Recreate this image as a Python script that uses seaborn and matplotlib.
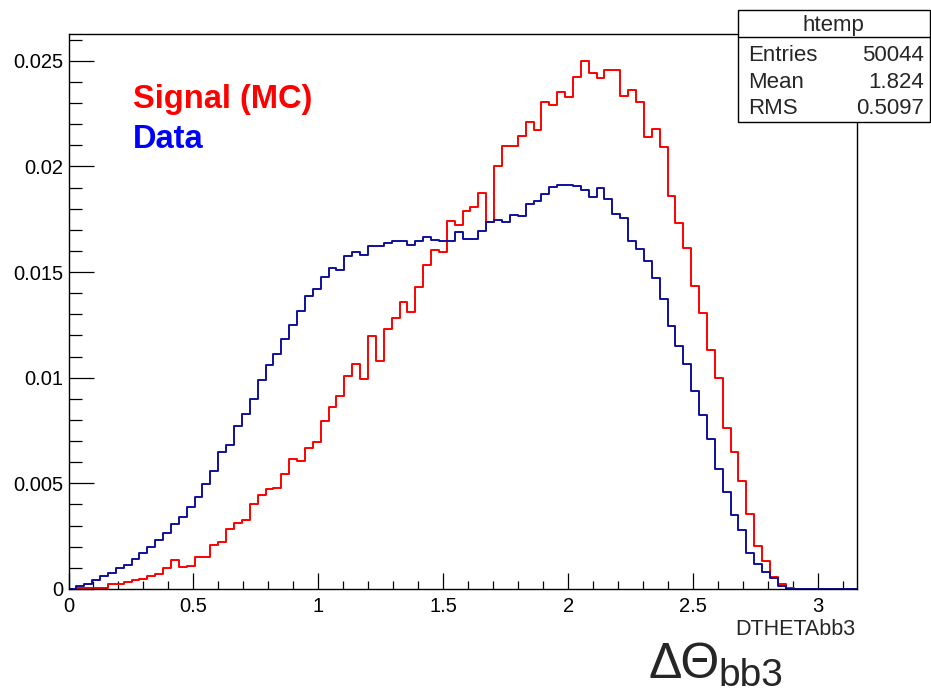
import numpy as np
import pandas as pd
import matplotlib
matplotlib.use("Agg")
import matplotlib.pyplot as plt
import seaborn as sns
from matplotlib.patches import Rectangle
from matplotlib.lines import Line2D
from matplotlib.ticker import MultipleLocator, FuncFormatter

# ---------------- data (100 bins of DTHETAbb3) ----------------
x_low, x_high, n_bins = 0.0, 3.155, 100

signal_mc = [
    0.0, 0.00006, 0.00006, 0.00006, 0.00006, 0.00025, 0.00022, 0.00034, 0.00041, 0.00048,
    0.00062, 0.00071, 0.00100, 0.00139, 0.00104, 0.00111, 0.00153, 0.00153, 0.00206, 0.00223,
    0.00284, 0.00313, 0.00326, 0.00404, 0.00446, 0.00472, 0.00479, 0.00544, 0.00613, 0.00605,
    0.00668, 0.00697, 0.00796, 0.00863, 0.00913, 0.01008, 0.01065, 0.00995, 0.01199, 0.01079,
    0.01232, 0.01283, 0.01357, 0.01313, 0.01428, 0.01531, 0.01602, 0.01596, 0.01742, 0.01721,
    0.01791, 0.01806, 0.01874, 0.01737, 0.02000, 0.02095, 0.02095, 0.02143, 0.02209, 0.02173,
    0.02306, 0.02292, 0.02350, 0.02327, 0.02424, 0.02500, 0.02440, 0.02419, 0.02454, 0.02454,
    0.02332, 0.02361, 0.02306, 0.02139, 0.02179, 0.02090, 0.01860, 0.01730, 0.01616, 0.01436,
    0.01305, 0.01131, 0.00997, 0.00760, 0.00649, 0.00510, 0.00354, 0.00202, 0.00131, 0.00057,
    0.00025, 0.00005, 0.0, 0.0, 0.0, 0.0, 0.0, 0.0, 0.0, 0.0,
]

data = [
    0.0, 0.00012, 0.00025, 0.00042, 0.00062, 0.00076, 0.00098, 0.00112, 0.00140, 0.00172,
    0.00201, 0.00231, 0.00263, 0.00306, 0.00339, 0.00389, 0.00437, 0.00496, 0.00557, 0.00647,
    0.00682, 0.00773, 0.00828, 0.00899, 0.00989, 0.01059, 0.01114, 0.01183, 0.01247, 0.01316,
    0.01386, 0.01420, 0.01477, 0.01518, 0.01510, 0.01574, 0.01597, 0.01581, 0.01623, 0.01623,
    0.01637, 0.01645, 0.01645, 0.01630, 0.01645, 0.01664, 0.01651, 0.01645, 0.01649, 0.01691,
    0.01657, 0.01657, 0.01694, 0.01735, 0.01747, 0.01735, 0.01771, 0.01767, 0.01823, 0.01838,
    0.01871, 0.01902, 0.01913, 0.01913, 0.01905, 0.01890, 0.01855, 0.01896, 0.01845, 0.01776,
    0.01754, 0.01645, 0.01607, 0.01554, 0.01470, 0.01371, 0.01245, 0.01150, 0.01065, 0.00938,
    0.00823, 0.00709, 0.00566, 0.00457, 0.00348, 0.00278, 0.00172, 0.00117, 0.00081, 0.00054,
    0.00013, 0.00002, 0.0, 0.0, 0.0, 0.0, 0.0, 0.0, 0.0, 0.0,
]

stats_title = "htemp"
stats_names = ["Entries", "Mean", "RMS"]
stats_values = ["50044", "1.824", "0.5097"]

# ---------------- style ----------------
sns.set_style("ticks")
plt.rcParams["font.family"] = ["Liberation Sans", "DejaVu Sans"]

W, H = 931, 694
fig = plt.figure(figsize=(W / 100, H / 100), dpi=100)
fig.patch.set_facecolor("white")

def fx(px):
    return px / W

def fy(py):
    return 1 - py / H

ax_left, ax_right, ax_top, ax_bottom = 68.5, 856.7, 34.3, 589.0
ax = fig.add_axes([fx(ax_left), fy(ax_bottom), fx(ax_right - ax_left), (ax_bottom - ax_top) / H])
ax.set_facecolor("white")

edges = np.linspace(x_low, x_high, n_bins + 1)
centers = 0.5 * (edges[:-1] + edges[1:])
df = pd.DataFrame({"x": centers, "signal": signal_mc, "data": data})

sns.histplot(data=df, x="x", weights="signal", bins=n_bins, binrange=(x_low, x_high),
             element="step", fill=False, color="#ff0000", linewidth=1.4, ax=ax)
sns.histplot(data=df, x="x", weights="data", bins=n_bins, binrange=(x_low, x_high),
             element="step", fill=False, color="#10109a", linewidth=1.4, ax=ax)

ax.set_xlim(x_low, x_high)
ax.set_ylim(0, 0.02625)
ax.set_ylabel("")

ax.xaxis.set_major_locator(MultipleLocator(0.5))
ax.xaxis.set_minor_locator(MultipleLocator(0.1))
ax.yaxis.set_major_locator(MultipleLocator(0.005))
ax.yaxis.set_minor_locator(MultipleLocator(0.001))
fmt = FuncFormatter(lambda v, p: ("%g" % round(v, 6)))
ax.xaxis.set_major_formatter(fmt)
ax.yaxis.set_major_formatter(fmt)

for s in ax.spines.values():
    s.set_visible(True)
    s.set_color("black")
    s.set_linewidth(1.0)

ax.tick_params(axis="both", which="both", direction="in", colors="black", width=0.9,
               top=False, right=False)
ax.tick_params(axis="x", which="major", length=11.5, pad=6, labelsize=14.5)
ax.tick_params(axis="x", which="minor", length=5.8)
ax.tick_params(axis="y", which="major", length=18, pad=4, labelsize=14.5)
ax.tick_params(axis="y", which="minor", length=9)

ax.set_xlabel("DTHETAbb3", fontsize=15.5, ha="right")
ax.xaxis.set_label_coords(0.998, -0.054)

# legend-like labels
fig.text(fx(133), fy(108.3), "Signal (MC)", color="#ff0000", fontsize=23.5,
         fontweight="bold", ha="left", va="baseline")
fig.text(fx(133), fy(148.3), "Data", color="#0000ff", fontsize=23.5,
         fontweight="bold", ha="left", va="baseline")

# stats box
bx0, bx1, by0, bsep, by1 = 737.7, 929.5, 10.0, 37.3, 121.7
fig.add_artist(Rectangle((fx(bx0), fy(by1)), fx(bx1 - bx0), (by1 - by0) / H,
                         transform=fig.transFigure, facecolor="white",
                         edgecolor="black", linewidth=1.0, zorder=10))
fig.add_artist(Line2D([fx(bx0), fx(bx1)], [fy(bsep), fy(bsep)], transform=fig.transFigure,
                      color="black", linewidth=1.0, zorder=11))
fig.text(fx((bx0 + bx1) / 2), fy(31), stats_title, fontsize=16, ha="center",
         va="baseline", zorder=12)
for name, val, base in zip(stats_names, stats_values, [61, 87.5, 114.5]):
    fig.text(fx(748), fy(base), name, fontsize=16, ha="left", va="baseline", zorder=12)
    fig.text(fx(924), fy(base), val, fontsize=16, ha="right", va="baseline", zorder=12)

# big axis annotation
fig.text(fx(649), fy(678), "ΔΘ", fontsize=36, ha="left", va="baseline")
fig.text(fx(718), fy(686.5), "bb3", fontsize=28, ha="left", va="baseline")

fig.savefig("out.png", dpi=100, facecolor="white")
